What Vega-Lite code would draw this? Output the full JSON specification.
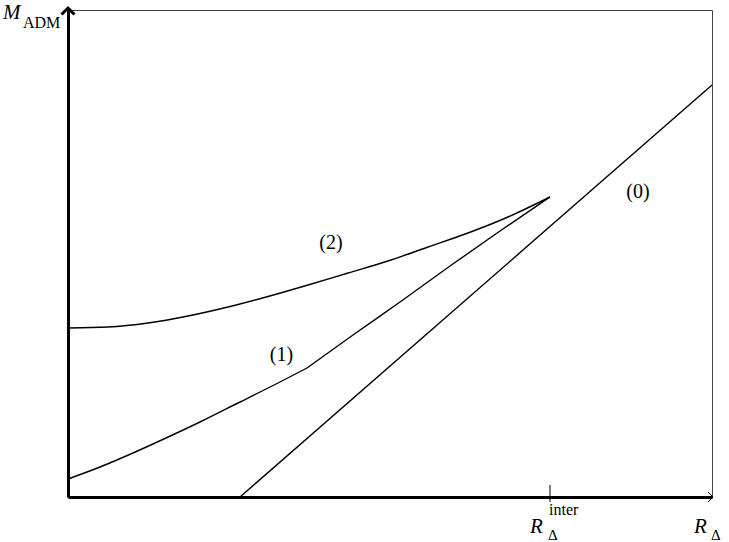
{
  "$schema": "https://vega.github.io/schema/vega-lite/v6.json",
  "width": 644,
  "height": 487,
  "autosize": {"type": "none"},
  "padding": {"left": 68, "top": 10, "right": 17, "bottom": 45},
  "background": "white",
  "config": {
    "view": {"stroke": "#444", "strokeWidth": 1},
    "axis": {"domainColor": "black", "domainWidth": 3, "ticks": false, "labels": false, "grid": false, "title": null}
  },
  "datasets": {
    "curves": [
      {"curve": "0", "x": 172, "y": 0},
      {"curve": "0", "x": 644, "y": 412},
      {"curve": "1a", "x": 0, "y": 18},
      {"curve": "1a", "x": 32, "y": 30},
      {"curve": "1a", "x": 65, "y": 44},
      {"curve": "1a", "x": 98, "y": 59},
      {"curve": "1a", "x": 132, "y": 75},
      {"curve": "1a", "x": 172, "y": 95},
      {"curve": "1a", "x": 212, "y": 115},
      {"curve": "1a", "x": 239, "y": 129},
      {"curve": "1b", "x": 239, "y": 129},
      {"curve": "1b", "x": 285, "y": 162},
      {"curve": "1b", "x": 332, "y": 195},
      {"curve": "1b", "x": 382, "y": 231},
      {"curve": "1b", "x": 432, "y": 266},
      {"curve": "1b", "x": 482, "y": 300},
      {"curve": "2", "x": 0, "y": 169},
      {"curve": "2", "x": 40, "y": 170},
      {"curve": "2", "x": 80, "y": 174},
      {"curve": "2", "x": 120, "y": 181},
      {"curve": "2", "x": 160, "y": 190},
      {"curve": "2", "x": 200, "y": 200.5},
      {"curve": "2", "x": 240, "y": 212},
      {"curve": "2", "x": 280, "y": 224},
      {"curve": "2", "x": 320, "y": 236},
      {"curve": "2", "x": 360, "y": 250},
      {"curve": "2", "x": 400, "y": 264},
      {"curve": "2", "x": 440, "y": 280},
      {"curve": "2", "x": 482, "y": 300}
    ],
    "tick": [{"x": 482, "y0": -5, "y1": 12}],
    "arrowUp": [{"x": 0, "y": 489}],
    "arrowRight": [{"x": 645, "y": 0}],
    "curveLabels": [
      {"text": "(2)", "x": 263, "y": 254},
      {"text": "(1)", "x": 213.5, "y": 142},
      {"text": "(0)", "x": 570, "y": 305}
    ],
    "bigLetters": [
      {"text": "M", "x": -65, "y": 478},
      {"text": "R", "x": 462, "y": -36},
      {"text": "R", "x": 626, "y": -36}
    ],
    "subs": [
      {"text": "ADM", "x": -45, "y": 469},
      {"text": "inter", "x": 481, "y": -18}
    ],
    "deltas": [
      {"text": "Δ", "x": 480, "y": -43},
      {"text": "Δ", "x": 643, "y": -43}
    ]
  },
  "layer": [
    {
      "data": {"name": "curves"},
      "mark": {"type": "line", "color": "black", "strokeWidth": 1.4, "interpolate": "monotone"},
      "encoding": {
        "x": {"field": "x", "type": "quantitative", "scale": {"domain": [0, 644], "nice": false, "zero": false}},
        "y": {"field": "y", "type": "quantitative", "scale": {"domain": [0, 487], "nice": false, "zero": false}},
        "detail": {"field": "curve"}
      }
    },
    {
      "data": {"name": "tick"},
      "mark": {"type": "rule", "color": "black", "strokeWidth": 1},
      "encoding": {
        "x": {"field": "x", "type": "quantitative", "scale": {"domain": [0, 644], "nice": false, "zero": false}},
        "y": {"field": "y0", "type": "quantitative", "scale": {"domain": [0, 487], "nice": false, "zero": false}},
        "y2": {"field": "y1"}
      }
    },
    {
      "data": {"name": "arrowUp"},
      "mark": {"type": "point", "shape": "M -1 1 L 0 0 L 1 1", "size": 169, "filled": false, "stroke": "black", "strokeWidth": 3, "opacity": 1},
      "encoding": {
        "x": {"field": "x", "type": "quantitative", "scale": {"domain": [0, 644], "nice": false, "zero": false}},
        "y": {"field": "y", "type": "quantitative", "scale": {"domain": [0, 487], "nice": false, "zero": false}}
      }
    },
    {
      "data": {"name": "arrowRight"},
      "mark": {"type": "point", "shape": "M -1 -1 L 0 0 L -1 1", "size": 100, "filled": false, "stroke": "black", "strokeWidth": 1, "opacity": 1},
      "encoding": {
        "x": {"field": "x", "type": "quantitative", "scale": {"domain": [0, 644], "nice": false, "zero": false}},
        "y": {"field": "y", "type": "quantitative", "scale": {"domain": [0, 487], "nice": false, "zero": false}}
      }
    },
    {
      "data": {"name": "curveLabels"},
      "mark": {"type": "text", "font": "Liberation Serif", "fontSize": 20, "align": "center", "baseline": "middle", "color": "black"},
      "encoding": {
        "x": {"field": "x", "type": "quantitative", "scale": {"domain": [0, 644], "nice": false, "zero": false}},
        "y": {"field": "y", "type": "quantitative", "scale": {"domain": [0, 487], "nice": false, "zero": false}},
        "text": {"field": "text"}
      }
    },
    {
      "data": {"name": "bigLetters"},
      "mark": {"type": "text", "font": "Liberation Serif", "fontStyle": "italic", "fontSize": 21, "align": "left", "baseline": "alphabetic", "color": "black"},
      "encoding": {
        "x": {"field": "x", "type": "quantitative", "scale": {"domain": [0, 644], "nice": false, "zero": false}},
        "y": {"field": "y", "type": "quantitative", "scale": {"domain": [0, 487], "nice": false, "zero": false}},
        "text": {"field": "text"}
      }
    },
    {
      "data": {"name": "subs"},
      "mark": {"type": "text", "font": "Liberation Serif", "fontSize": 16, "align": "left", "baseline": "alphabetic", "color": "black"},
      "encoding": {
        "x": {"field": "x", "type": "quantitative", "scale": {"domain": [0, 644], "nice": false, "zero": false}},
        "y": {"field": "y", "type": "quantitative", "scale": {"domain": [0, 487], "nice": false, "zero": false}},
        "text": {"field": "text"}
      }
    },
    {
      "data": {"name": "deltas"},
      "mark": {"type": "text", "font": "Liberation Serif", "fontSize": 15, "align": "left", "baseline": "alphabetic", "color": "black"},
      "encoding": {
        "x": {"field": "x", "type": "quantitative", "scale": {"domain": [0, 644], "nice": false, "zero": false}},
        "y": {"field": "y", "type": "quantitative", "scale": {"domain": [0, 487], "nice": false, "zero": false}},
        "text": {"field": "text"}
      }
    }
  ]
}
